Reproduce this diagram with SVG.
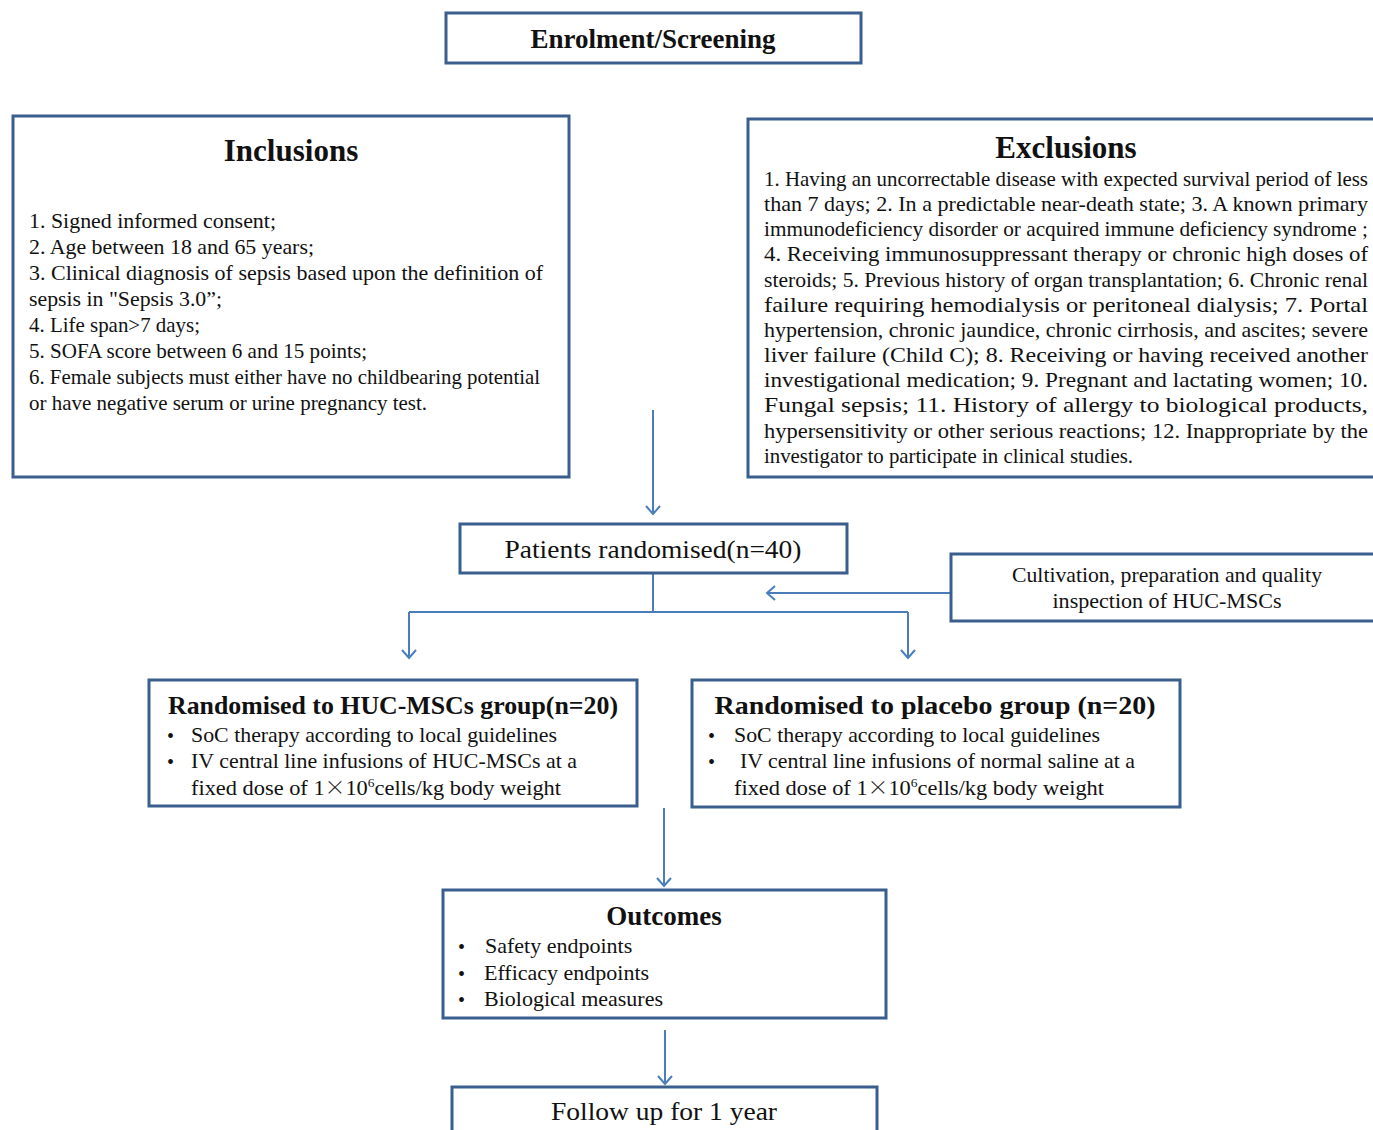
<svg xmlns="http://www.w3.org/2000/svg" width="1373" height="1130" viewBox="0 0 1373 1130">
<defs>
<marker id="arr" viewBox="0 0 16 16" refX="14" refY="8" markerWidth="16" markerHeight="16" markerUnits="userSpaceOnUse" orient="auto-start-reverse">
<path d="M6,1 L14,8 L6,15" fill="none" stroke="#4a7ebb" stroke-width="2"/>
</marker>
<style>
.box{fill:#ffffff;stroke:#3a5f8e;stroke-width:3}
.t{font-family:"Liberation Serif","Times New Roman",serif;fill:#111111}
.b{font-weight:bold}
.c{text-anchor:middle}
.x{font-family:"Noto Sans CJK SC",sans-serif;font-weight:300}
.con{fill:none;stroke:#4a7ebb;stroke-width:2}
</style>
</defs>
<rect width="1373" height="1130" fill="#ffffff"/>

<g id="connectors">
<line class="con" x1="653" y1="410" x2="653" y2="514" marker-end="url(#arr)"/>
<line class="con" x1="951" y1="593" x2="767" y2="593" marker-end="url(#arr)"/>
<polyline class="con" points="653,574 653,612"/>
<polyline class="con" points="409,612 908,612"/>
<line class="con" x1="409" y1="612" x2="409" y2="658" marker-end="url(#arr)"/>
<line class="con" x1="908" y1="612" x2="908" y2="658" marker-end="url(#arr)"/>
<line class="con" x1="664" y1="808" x2="664" y2="886" marker-end="url(#arr)"/>
<line class="con" x1="665" y1="1030" x2="665" y2="1084" marker-end="url(#arr)"/>
</g>

<g id="enrolment">
<rect class="box" x="446" y="13" width="415" height="50"/>
<text class="t b c" x="653" y="48" font-size="27">Enrolment/Screening</text>
</g>

<g id="inclusions">
<rect class="box" x="13" y="116" width="556" height="361"/>
<text class="t b c" x="291" y="161" font-size="31">Inclusions</text>
<g class="t" font-size="21.5">
<text x="29" y="228" textLength="247" lengthAdjust="spacingAndGlyphs">1. Signed informed consent;</text>
<text x="29" y="254" textLength="285" lengthAdjust="spacingAndGlyphs">2. Age between 18 and 65 years;</text>
<text x="29" y="280" textLength="514" lengthAdjust="spacingAndGlyphs">3. Clinical diagnosis of sepsis based upon the definition of</text>
<text x="29" y="306" textLength="193" lengthAdjust="spacingAndGlyphs">sepsis in "Sepsis 3.0”;</text>
<text x="29" y="332" textLength="171" lengthAdjust="spacingAndGlyphs">4. Life span&gt;7 days;</text>
<text x="29" y="358" textLength="338" lengthAdjust="spacingAndGlyphs">5. SOFA score between 6 and 15 points;</text>
<text x="29" y="384" textLength="511" lengthAdjust="spacingAndGlyphs">6. Female subjects must either have no childbearing potential</text>
<text x="29" y="410" textLength="398" lengthAdjust="spacingAndGlyphs">or have negative serum or urine pregnancy test.</text>
</g>
</g>

<g id="exclusions">
<rect class="box" x="748" y="119" width="630" height="358"/>
<text class="t b c" x="1066" y="158" font-size="31">Exclusions</text>
<g class="t" font-size="21">
<text x="764" y="186" textLength="604" lengthAdjust="spacingAndGlyphs">1. Having an uncorrectable disease with expected survival period of less</text>
<text x="764" y="211" textLength="604" lengthAdjust="spacingAndGlyphs">than 7 days; 2. In a predictable near-death state; 3. A known primary</text>
<text x="764" y="236" textLength="604" lengthAdjust="spacingAndGlyphs">immunodeficiency disorder or acquired immune deficiency syndrome ;</text>
<text x="764" y="261" textLength="604" lengthAdjust="spacingAndGlyphs">4. Receiving immunosuppressant therapy or chronic high doses of</text>
<text x="764" y="287" textLength="604" lengthAdjust="spacingAndGlyphs">steroids; 5. Previous history of  organ transplantation; 6. Chronic renal</text>
<text x="764" y="312" textLength="604" lengthAdjust="spacingAndGlyphs">failure requiring hemodialysis or peritoneal dialysis; 7. Portal</text>
<text x="764" y="337" textLength="604" lengthAdjust="spacingAndGlyphs">hypertension, chronic jaundice, chronic cirrhosis, and ascites; severe</text>
<text x="764" y="362" textLength="604" lengthAdjust="spacingAndGlyphs">liver failure (Child C); 8. Receiving or having received another</text>
<text x="764" y="387" textLength="604" lengthAdjust="spacingAndGlyphs">investigational medication; 9. Pregnant and lactating women; 10.</text>
<text x="764" y="412" textLength="604" lengthAdjust="spacingAndGlyphs">Fungal sepsis; 11. History of allergy to biological products,</text>
<text x="764" y="438" textLength="604" lengthAdjust="spacingAndGlyphs">hypersensitivity or other serious reactions; 12. Inappropriate by the</text>
<text x="764" y="463" textLength="369" lengthAdjust="spacingAndGlyphs">investigator to participate in clinical studies.</text>
</g>
</g>

<g id="randomised">
<rect class="box" x="460" y="524" width="387" height="49"/>
<text class="t c" x="653" y="558" font-size="26" textLength="297" lengthAdjust="spacingAndGlyphs">Patients randomised(n=40)</text>
</g>

<g id="cultivation">
<rect class="box" x="951" y="554" width="427" height="67"/>
<text class="t c" x="1167" y="582" font-size="21" textLength="310" lengthAdjust="spacingAndGlyphs">Cultivation, preparation and quality</text>
<text class="t c" x="1167" y="608" font-size="21" textLength="229" lengthAdjust="spacingAndGlyphs">inspection of  HUC-MSCs</text>
</g>

<g id="huc">
<rect class="box" x="149" y="680" width="488" height="126"/>
<text class="t b c" x="393" y="714" font-size="25" textLength="450" lengthAdjust="spacingAndGlyphs">Randomised to HUC-MSCs group(n=20)</text>
<g class="t" font-size="21.5">
<text x="167" y="743" font-size="20">•</text>
<text x="191" y="742" textLength="366" lengthAdjust="spacingAndGlyphs">SoC therapy according to local guidelines</text>
<text x="167" y="769" font-size="20">•</text>
<text x="191" y="768" textLength="386" lengthAdjust="spacingAndGlyphs">IV central line infusions of HUC-MSCs  at a</text>
<text x="191" y="795" textLength="370" lengthAdjust="spacingAndGlyphs">fixed dose of  1<tspan class="x" font-size="20">×</tspan>10<tspan font-size="13" dy="-8">6</tspan><tspan dy="8">cells/kg  body weight</tspan></text>
</g>
</g>

<g id="placebo">
<rect class="box" x="692" y="680" width="488" height="127"/>
<text class="t b c" x="935" y="714" font-size="25" textLength="441" lengthAdjust="spacingAndGlyphs">Randomised  to placebo group  (n=20)</text>
<g class="t" font-size="21.5">
<text x="708" y="743" font-size="20">•</text>
<text x="734" y="742" textLength="366" lengthAdjust="spacingAndGlyphs">SoC therapy according to local guidelines</text>
<text x="708" y="769" font-size="20">•</text>
<text x="740" y="768" textLength="395" lengthAdjust="spacingAndGlyphs">IV central line infusions of normal saline at a</text>
<text x="734" y="795" textLength="370" lengthAdjust="spacingAndGlyphs">fixed dose of  1<tspan class="x" font-size="20">×</tspan>10<tspan font-size="13" dy="-8">6</tspan><tspan dy="8">cells/kg  body weight</tspan></text>
</g>
</g>

<g id="outcomes">
<rect class="box" x="443" y="890" width="443" height="128"/>
<text class="t b c" x="664" y="925" font-size="27">Outcomes</text>
<g class="t" font-size="22">
<text x="458" y="954" font-size="20">•</text>
<text x="485" y="953">Safety endpoints</text>
<text x="458" y="981" font-size="20">•</text>
<text x="484" y="980">Efficacy endpoints</text>
<text x="458" y="1007" font-size="20">•</text>
<text x="484" y="1006">Biological measures</text>
</g>
</g>

<g id="followup">
<rect class="box" x="452" y="1087" width="425" height="60"/>
<text class="t c" x="664" y="1120" font-size="26" textLength="226" lengthAdjust="spacingAndGlyphs">Follow up for 1 year</text>
</g>
</svg>
